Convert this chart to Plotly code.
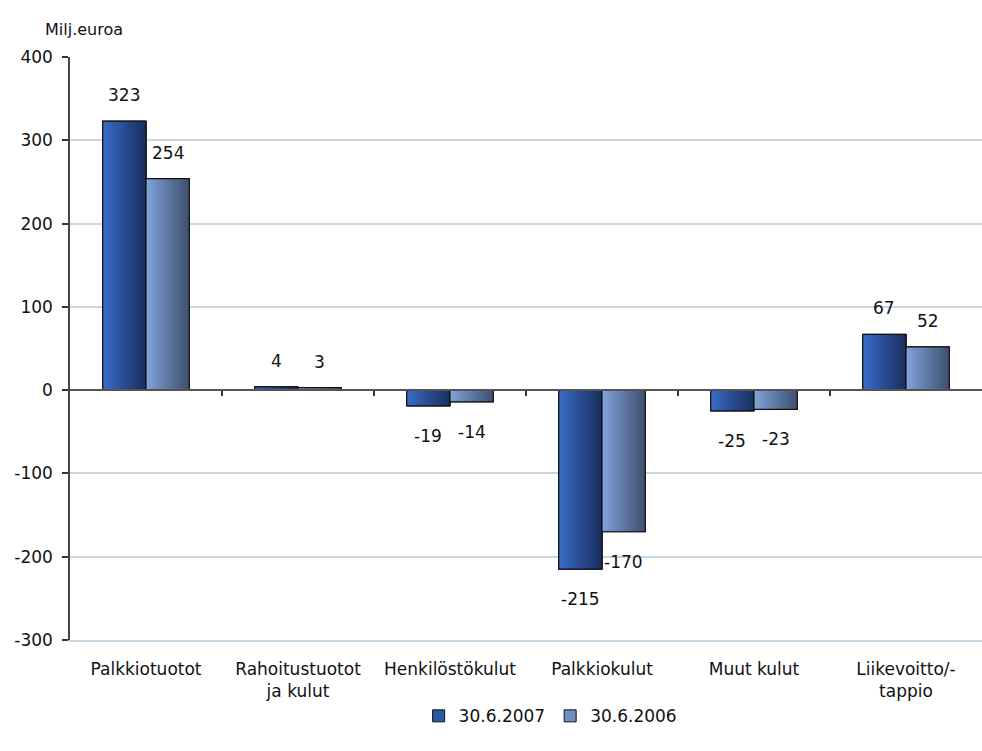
import plotly.graph_objects as go

# Tuloslaskelman erät, milj. euroa
categories = ["Palkkiotuotot", "Rahoitustuotot<br>ja kulut", "Henkilöstökulut",
              "Palkkiokulut", "Muut kulut", "Liikevoitto/-<br>tappio"]
series_names = ["30.6.2007", "30.6.2006"]
values_2007 = [323, 4, -19, -215, -25, 67]
values_2006 = [254, 3, -14, -170, -23, 52]
y_ticks = [400, 300, 200, 100, 0, -100, -200, -300]

FONT = "DejaVu Sans"
BAR_W = 0.285          # width of one bar in category units
N_STRIPS = 14          # strips used to fake the horizontal gradient

# left -> right gradient colours for each series
grad = {
    "30.6.2007": ((58, 108, 200), (26, 46, 92)),
    "30.6.2006": ((128, 164, 220), (62, 78, 108)),
}
legend_fill = {"30.6.2007": "#2c58a8", "30.6.2006": "#6f8fc0"}


def mix(c0, c1, t):
    return "rgb(%d,%d,%d)" % tuple(round(a + (b - a) * t) for a, b in zip(c0, c1))


xs = list(range(len(categories)))
fig = go.Figure()

for si, (name, vals) in enumerate(zip(series_names, [values_2007, values_2006])):
    start = -BAR_W if si == 0 else 0.0
    # base bar (carries the legend entry)
    fig.add_trace(go.Bar(
        x=xs, y=vals, name=name, width=BAR_W, offset=start,
        marker=dict(color=legend_fill[name], line=dict(color="#111", width=1)),
        hoverinfo="skip",
    ))
    c0, c1 = grad[name]
    sw = BAR_W / N_STRIPS
    for k in range(N_STRIPS):
        fig.add_trace(go.Bar(
            x=xs, y=vals, width=sw * 1.2, offset=start + k * sw,
            marker=dict(color=mix(c0, c1, (k + 0.5) / N_STRIPS), line=dict(width=0)),
            showlegend=False, hoverinfo="skip",
        ))
    # outline on top of the strips
    fig.add_trace(go.Bar(
        x=xs, y=vals, width=BAR_W, offset=start,
        marker=dict(color="rgba(0,0,0,0)", line=dict(color="#111", width=1.2)),
        showlegend=False, hoverinfo="skip",
    ))

# value labels
for si, vals in enumerate([values_2007, values_2006]):
    dx = -BAR_W / 2 if si == 0 else BAR_W / 2
    for i, v in enumerate(vals):
        fig.add_annotation(
            x=i + dx, y=v, text=str(v), showarrow=False,
            yshift=26 if v >= 0 else -30,
            font=dict(family=FONT, size=17, color="#111"),
        )

# axis line through zero with tick marks between categories
fig.add_trace(go.Scatter(x=[None], y=[None], xaxis="x2", showlegend=False, hoverinfo="skip"))

fig.add_annotation(
    xref="paper", yref="paper", x=-0.03, y=1.0, yshift=39, xanchor="left",
    text="Milj.euroa", showarrow=False,
    font=dict(family=FONT, size=16, color="#111"),
)

fig.update_layout(
    width=982, height=751,
    margin=dict(l=70, r=0, t=57, b=111, autoexpand=False),
    paper_bgcolor="white", plot_bgcolor="white",
    barmode="overlay",
    font=dict(family=FONT, size=17, color="#111"),
    xaxis=dict(
        range=[-0.5, len(categories) - 0.5],
        tickmode="array", tickvals=xs, ticktext=categories,
        showgrid=False, zeroline=False,
        showline=True, linecolor="#c9d6e4", linewidth=1.5, ticks="",
        ticklabelstandoff=13, tickfont=dict(family=FONT, size=17),
    ),
    xaxis2=dict(
        overlaying="x", anchor="free", position=300 / 700, side="bottom",
        range=[-0.5, len(categories) - 0.5],
        tickmode="array", tickvals=[i + 0.5 for i in xs[:-1]],
        ticks="outside", ticklen=5, tickwidth=1.5, tickcolor="#333",
        showticklabels=False, showgrid=False, zeroline=False,
        showline=True, linecolor="#555", linewidth=1.5,
    ),
    yaxis=dict(
        range=[-300, 400], tickmode="array", tickvals=y_ticks,
        ticktext=[str(t) for t in y_ticks],
        showgrid=True, gridcolor="#c9d6e4", gridwidth=1.5,
        zeroline=False,
        showline=True, linecolor="#444", linewidth=1.5,
        ticks="outside", ticklen=6, tickwidth=1.5, tickcolor="#333",
        ticklabelstandoff=6, tickfont=dict(family=FONT, size=17),
    ),
    legend=dict(
        orientation="h", x=0.527, xanchor="center", y=-0.1, yanchor="top",
        font=dict(family=FONT, size=17), itemwidth=30,
        traceorder="normal", tracegroupgap=0,
    ),
)

fig.write_html("out.html")
